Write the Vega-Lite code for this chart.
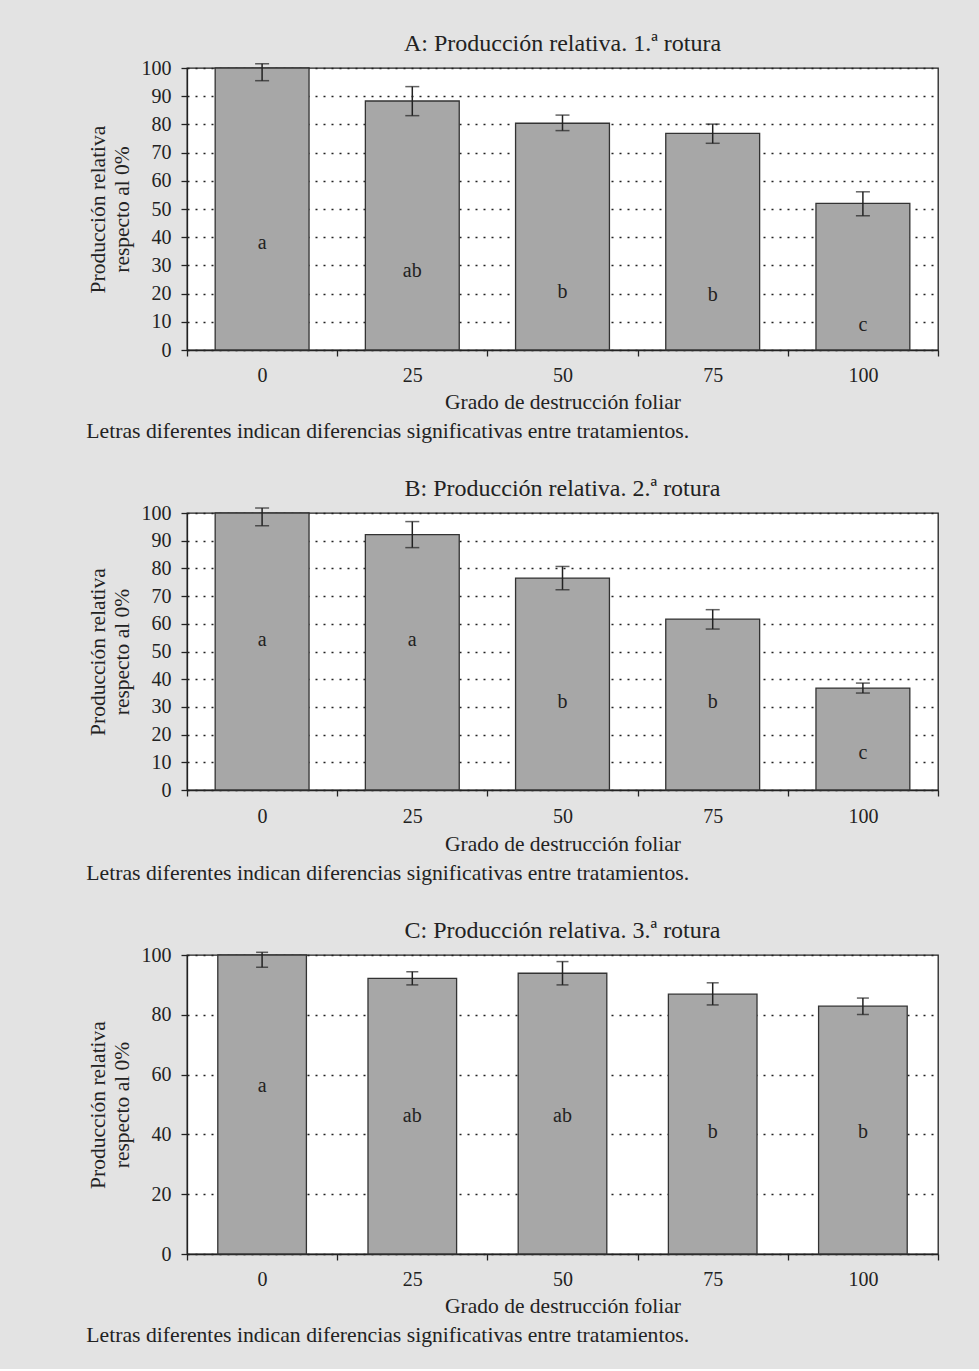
{
  "$schema": "https://vega.github.io/schema/vega-lite/v6.json",
  "background": "#e3e3e3",
  "padding": {"left": 86, "top": 31, "right": 41, "bottom": 22},
  "config": {
    "font": "Liberation Serif",
    "view": {"fill": "white", "stroke": "#222", "strokeWidth": 1.3},
    "axis": {
      "labelFont": "Liberation Serif", "labelFontSize": 20, "labelColor": "#222",
      "titleFont": "Liberation Serif", "titleFontSize": 21.5, "titleFontWeight": "normal", "titleColor": "#222",
      "domainColor": "#222", "domainWidth": 1.3, "tickColor": "#222", "tickWidth": 1.3, "tickSize": 6
    },
    "axisY": {"grid": true, "gridColor": "#222", "gridDash": [2, 6], "gridWidth": 1.5, "labelPadding": 10, "titlePadding": 8, "titleLineHeight": 24},
    "axisX": {"grid": false, "labelAngle": 0, "labelPadding": 9, "titlePadding": 6},
    "title": {"font": "Liberation Serif", "fontSize": 24, "fontWeight": "normal", "color": "#222"},
    "concat": {"spacing": 0}
  },
  "datasets": {
    "A": [
      {"grado": 0, "valor": 100, "lo": 95.5, "hi": 101.5, "letra": "a", "ly": 37.9},
      {"grado": 25, "valor": 88.3, "lo": 83.1, "hi": 93.4, "letra": "ab", "ly": 28},
      {"grado": 50, "valor": 80.4, "lo": 77.8, "hi": 83.3, "letra": "b", "ly": 20.6},
      {"grado": 75, "valor": 76.8, "lo": 73.3, "hi": 80.1, "letra": "b", "ly": 19.5},
      {"grado": 100, "valor": 52, "lo": 47.6, "hi": 56.1, "letra": "c", "ly": 8.9}
    ],
    "B": [
      {"grado": 0, "valor": 100, "lo": 95.4, "hi": 101.8, "letra": "a", "ly": 54.3},
      {"grado": 25, "valor": 92.2, "lo": 87.5, "hi": 96.9, "letra": "a", "ly": 54.3},
      {"grado": 50, "valor": 76.5, "lo": 72.3, "hi": 80.7, "letra": "b", "ly": 31.6},
      {"grado": 75, "valor": 61.7, "lo": 58.1, "hi": 65.1, "letra": "b", "ly": 31.6},
      {"grado": 100, "valor": 36.8, "lo": 35.0, "hi": 38.6, "letra": "c", "ly": 13.2}
    ],
    "C": [
      {"grado": 0, "valor": 100, "lo": 95.9, "hi": 100.9, "letra": "a", "ly": 56.1},
      {"grado": 25, "valor": 92.2, "lo": 90, "hi": 94.4, "letra": "ab", "ly": 46.3},
      {"grado": 50, "valor": 93.9, "lo": 90, "hi": 97.8, "letra": "ab", "ly": 46.3},
      {"grado": 75, "valor": 86.9, "lo": 83.3, "hi": 90.7, "letra": "b", "ly": 40.7},
      {"grado": 100, "valor": 82.9, "lo": 80.1, "hi": 85.6, "letra": "b", "ly": 40.7}
    ]
  },
  "vconcat": [
    {
      "title": {"text": "Letras diferentes indican diferencias significativas entre tratamientos.", "orient": "bottom", "anchor": "start", "frame": "bounds", "fontSize": 21.7, "offset": 8},
      "vconcat": [
        {
          "width": 751, "height": 282,
          "title": {"text": "A: Producción relativa. 1.ª rotura", "offset": 2},
          "data": {"name": "A"},
          "encoding": {
            "x": {"field": "grado", "type": "ordinal", "sort": [0, 25, 50, 75, 100],
                  "scale": {"paddingInner": 0, "paddingOuter": 0},
                  "axis": {"title": "Grado de destrucción foliar", "tickBand": "extent"}}
          },
          "layer": [
            {
              "mark": {"type": "bar", "width": {"band": 0.625}, "fill": "#a7a7a7", "stroke": "#333", "strokeWidth": 1.3},
              "encoding": {"y": {"field": "valor", "type": "quantitative", "title": ["Producción relativa", "respecto al 0%"], "scale": {"domain": [0, 100], "nice": false}, "axis": {"values": [0, 10, 20, 30, 40, 50, 60, 70, 80, 90, 100]}}}
            },
            {
              "mark": {"type": "rule", "color": "#222", "strokeWidth": 1.5},
              "encoding": {"y": {"field": "lo", "type": "quantitative", "title": ["Producción relativa", "respecto al 0%"], "axis": {"values": [0, 10, 20, 30, 40, 50, 60, 70, 80, 90, 100]}}, "y2": {"field": "hi"}}
            },
            {
              "mark": {"type": "tick", "color": "#222", "size": 14, "thickness": 1.5},
              "encoding": {"y": {"field": "lo", "type": "quantitative", "title": ["Producción relativa", "respecto al 0%"], "axis": {"values": [0, 10, 20, 30, 40, 50, 60, 70, 80, 90, 100]}}}
            },
            {
              "mark": {"type": "tick", "color": "#222", "size": 14, "thickness": 1.5},
              "encoding": {"y": {"field": "hi", "type": "quantitative", "title": ["Producción relativa", "respecto al 0%"], "axis": {"values": [0, 10, 20, 30, 40, 50, 60, 70, 80, 90, 100]}}}
            },
            {
              "mark": {"type": "text", "fontSize": 20, "color": "#222", "baseline": "middle"},
              "encoding": {"y": {"field": "ly", "type": "quantitative", "title": ["Producción relativa", "respecto al 0%"], "axis": {"values": [0, 10, 20, 30, 40, 50, 60, 70, 80, 90, 100]}}, "text": {"field": "letra"}}
            }
          ]
        }
      ]
    },
    {
      "title": {"text": "Letras diferentes indican diferencias significativas entre tratamientos.", "orient": "bottom", "anchor": "start", "frame": "bounds", "fontSize": 21.7, "offset": 8},
      "vconcat": [
        {
          "width": 751, "height": 277,
          "title": {"text": "B: Producción relativa. 2.ª rotura", "offset": 2},
          "data": {"name": "B"},
          "encoding": {
            "x": {"field": "grado", "type": "ordinal", "sort": [0, 25, 50, 75, 100],
                  "scale": {"paddingInner": 0, "paddingOuter": 0},
                  "axis": {"title": "Grado de destrucción foliar", "tickBand": "extent", "labelPadding": 10, "titlePadding": 7}}
          },
          "layer": [
            {
              "mark": {"type": "bar", "width": {"band": 0.625}, "fill": "#a7a7a7", "stroke": "#333", "strokeWidth": 1.3},
              "encoding": {"y": {"field": "valor", "type": "quantitative", "title": ["Producción relativa", "respecto al 0%"], "scale": {"domain": [0, 100], "nice": false}, "axis": {"values": [0, 10, 20, 30, 40, 50, 60, 70, 80, 90, 100]}}}
            },
            {
              "mark": {"type": "rule", "color": "#222", "strokeWidth": 1.5},
              "encoding": {"y": {"field": "lo", "type": "quantitative", "title": ["Producción relativa", "respecto al 0%"], "axis": {"values": [0, 10, 20, 30, 40, 50, 60, 70, 80, 90, 100]}}, "y2": {"field": "hi"}}
            },
            {
              "mark": {"type": "tick", "color": "#222", "size": 14, "thickness": 1.5},
              "encoding": {"y": {"field": "lo", "type": "quantitative", "title": ["Producción relativa", "respecto al 0%"], "axis": {"values": [0, 10, 20, 30, 40, 50, 60, 70, 80, 90, 100]}}}
            },
            {
              "mark": {"type": "tick", "color": "#222", "size": 14, "thickness": 1.5},
              "encoding": {"y": {"field": "hi", "type": "quantitative", "title": ["Producción relativa", "respecto al 0%"], "axis": {"values": [0, 10, 20, 30, 40, 50, 60, 70, 80, 90, 100]}}}
            },
            {
              "mark": {"type": "text", "fontSize": 20, "color": "#222", "baseline": "middle"},
              "encoding": {"y": {"field": "ly", "type": "quantitative", "title": ["Producción relativa", "respecto al 0%"], "axis": {"values": [0, 10, 20, 30, 40, 50, 60, 70, 80, 90, 100]}}, "text": {"field": "letra"}}
            }
          ]
        }
      ]
    },
    {
      "title": {"text": "Letras diferentes indican diferencias significativas entre tratamientos.", "orient": "bottom", "anchor": "start", "frame": "bounds", "fontSize": 21.7, "offset": 8},
      "vconcat": [
        {
          "width": 751, "height": 299,
          "title": {"text": "C: Producción relativa. 3.ª rotura", "offset": 2},
          "data": {"name": "C"},
          "encoding": {
            "x": {"field": "grado", "type": "ordinal", "sort": [0, 25, 50, 75, 100],
                  "scale": {"paddingInner": 0, "paddingOuter": 0},
                  "axis": {"title": "Grado de destrucción foliar", "tickBand": "extent"}}
          },
          "layer": [
            {
              "mark": {"type": "bar", "width": {"band": 0.59}, "fill": "#a7a7a7", "stroke": "#333", "strokeWidth": 1.3},
              "encoding": {"y": {"field": "valor", "type": "quantitative", "title": ["Producción relativa", "respecto al 0%"], "scale": {"domain": [0, 100], "nice": false}, "axis": {"values": [0, 20, 40, 60, 80, 100]}}}
            },
            {
              "mark": {"type": "rule", "color": "#222", "strokeWidth": 1.5},
              "encoding": {"y": {"field": "lo", "type": "quantitative", "title": ["Producción relativa", "respecto al 0%"], "axis": {"values": [0, 20, 40, 60, 80, 100]}}, "y2": {"field": "hi"}}
            },
            {
              "mark": {"type": "tick", "color": "#222", "size": 12, "thickness": 1.5},
              "encoding": {"y": {"field": "lo", "type": "quantitative", "title": ["Producción relativa", "respecto al 0%"], "axis": {"values": [0, 20, 40, 60, 80, 100]}}}
            },
            {
              "mark": {"type": "tick", "color": "#222", "size": 12, "thickness": 1.5},
              "encoding": {"y": {"field": "hi", "type": "quantitative", "title": ["Producción relativa", "respecto al 0%"], "axis": {"values": [0, 20, 40, 60, 80, 100]}}}
            },
            {
              "mark": {"type": "text", "fontSize": 20, "color": "#222", "baseline": "middle"},
              "encoding": {"y": {"field": "ly", "type": "quantitative", "title": ["Producción relativa", "respecto al 0%"], "axis": {"values": [0, 20, 40, 60, 80, 100]}}, "text": {"field": "letra"}}
            }
          ]
        }
      ]
    }
  ],
  "spacing": 33
}
